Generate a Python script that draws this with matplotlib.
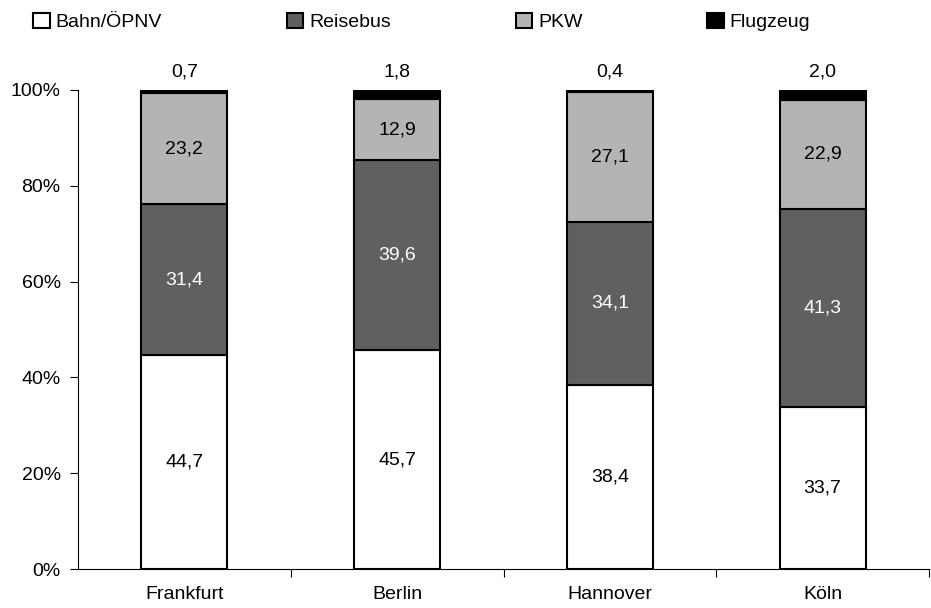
import numpy as np
import matplotlib
matplotlib.use("Agg")
import matplotlib.pyplot as plt
from matplotlib.ticker import FuncFormatter

plt.rcParams['font.family'] = ['Liberation Sans', 'DejaVu Sans']

cities = ["Frankfurt", "Berlin", "Hannover", "Köln"]
bahn = [44.7, 45.7, 38.4, 33.7]
reisebus = [31.4, 39.6, 34.1, 41.3]
pkw = [23.2, 12.9, 27.1, 22.9]
flugzeug = [0.7, 1.8, 0.4, 2.0]

series = [
    ("Bahn/ÖPNV", bahn, "white", "black"),
    ("Reisebus", reisebus, "#606060", "white"),
    ("PKW", pkw, "#b4b4b4", "black"),
    ("Flugzeug", flugzeug, "black", "black"),
]

totals = np.array(bahn) + np.array(reisebus) + np.array(pkw) + np.array(flugzeug)
fs = 14

fig = plt.figure(figsize=(9.31, 6.08), dpi=100)
ax = fig.add_axes([78 / 931, 39 / 608, 851 / 931, 479 / 608])

x = np.arange(len(cities))
bottom = np.zeros(len(cities))
for name, vals, col, txtcol in series:
    share = np.array(vals) / totals
    ax.bar(x, share, 0.405, bottom=bottom, color=col, edgecolor="black",
           linewidth=1.5, label=name)
    for i in range(len(cities)):
        lbl = f"{vals[i]:.1f}".replace(".", ",")
        if name == "Flugzeug":
            ax.annotate(lbl, (x[i], 1.0), xytext=(0, 10), textcoords="offset points",
                        ha="center", va="baseline", fontsize=fs, color="black")
        else:
            ax.text(x[i], bottom[i] + share[i] / 2, lbl,
                    ha="center", va="center", fontsize=fs, color=txtcol)
    bottom += share

ax.set_xlim(-0.5, 3.5)
ax.set_ylim(0, 1)
ax.set_yticks(np.arange(0, 1.01, 0.2))
ax.yaxis.set_major_formatter(FuncFormatter(lambda v, p: f"{v * 100:.0f}%"))
ax.set_xticks([0.5, 1.5, 2.5, 3.5])
ax.set_xticklabels([])
ax.set_xticks(x, minor=True)
ax.set_xticklabels(cities, minor=True)
ax.tick_params(axis="x", which="minor", length=0, pad=12.5, labelsize=fs)
ax.tick_params(axis="x", which="major", length=5.5, width=0.8, direction="out")
ax.tick_params(axis="y", length=5.5, width=0.8, pad=7, direction="out", labelsize=fs)

for s in ["top", "right"]:
    ax.spines[s].set_visible(False)
ax.spines["left"].set_linewidth(0.8)
ax.spines["bottom"].set_linewidth(0.8)

fig.legend(loc="center left", bbox_to_anchor=(33 / 931, 1 - 22 / 608), ncol=4,
           frameon=False, fontsize=fs, handlelength=0.87, handleheight=0.87,
           handletextpad=0.3, columnspacing=6.4, borderaxespad=0, borderpad=0)

fig.savefig("out.png", dpi=100)
